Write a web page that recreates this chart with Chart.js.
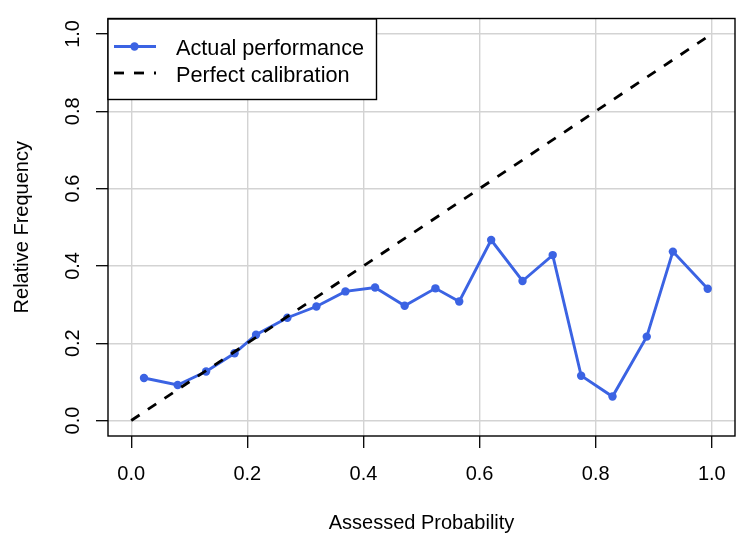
<!DOCTYPE html>
<html>
<head>
<meta charset="utf-8">
<script src="https://cdn.jsdelivr.net/npm/chart.js@4/dist/chart.umd.min.js"></script>
<style>
  html, body { margin: 0; padding: 0; background: #fff; }
  #wrap { width: 750px; height: 546px; }
</style>
</head>
<body>
<div id="wrap"><canvas id="c" width="750" height="546"></canvas></div>
<script>
// ---- data ----
const assessedProb = [0.022, 0.080, 0.129, 0.178, 0.215, 0.269, 0.319, 0.369, 0.420, 0.471,
                      0.524, 0.565, 0.620, 0.674, 0.726, 0.775, 0.829, 0.888, 0.933, 0.993];
const relativeFreq = [0.110, 0.092, 0.127, 0.174, 0.222, 0.266, 0.295, 0.334, 0.344, 0.297,
                      0.342, 0.308, 0.467, 0.361, 0.428, 0.116, 0.062, 0.217, 0.437, 0.341];
const diagX = [0, 1];
const diagY = [0, 1];
const xTicks = [0, 0.2, 0.4, 0.6, 0.8, 1.0];
const yTicks = [0, 0.2, 0.4, 0.6, 0.8, 1.0];
const xTickLabels = ['0.0', '0.2', '0.4', '0.6', '0.8', '1.0'];
const yTickLabels = ['0.0', '0.2', '0.4', '0.6', '0.8', '1.0'];
const seriesLabels = ['Actual performance', 'Perfect calibration'];
const xTitle = 'Assessed Probability';
const yTitle = 'Relative Frequency';

const BLUE = '#3b63e3';
const FONT = 'Liberation Sans, Arial, Helvetica, sans-serif';

Chart.defaults.color = '#000';
Chart.defaults.font.family = FONT;

const boxPlugin = {
  id: 'boxAndLegend',
  afterDraw(chart) {
    const ctx = chart.ctx;
    const a = chart.chartArea;
    ctx.save();
    // plot box
    ctx.strokeStyle = '#000';
    ctx.lineWidth = 1.4;
    ctx.strokeRect(a.left, a.top, a.right - a.left, a.bottom - a.top);
    // legend box (top-left of plot region)
    const lx = a.left, ly = a.top + 0.5, lw = 268.5, lh = 80.5;
    ctx.fillStyle = '#fff';
    ctx.fillRect(lx, ly, lw, lh);
    ctx.strokeRect(lx, ly, lw, lh);
    const ds = chart.data.datasets;
    // entry 1: blue line with point
    ctx.strokeStyle = ds[1].borderColor;
    ctx.lineWidth = ds[1].borderWidth;
    ctx.setLineDash([]);
    ctx.beginPath();
    ctx.moveTo(114, 46.5);
    ctx.lineTo(156, 46.5);
    ctx.stroke();
    ctx.fillStyle = ds[1].pointBackgroundColor;
    ctx.beginPath();
    ctx.arc(134.5, 46.5, 4.2, 0, Math.PI * 2);
    ctx.fill();
    // entry 2: dashed
    ctx.strokeStyle = ds[0].borderColor;
    ctx.lineWidth = ds[0].borderWidth;
    ctx.setLineDash(ds[0].borderDash);
    ctx.beginPath();
    ctx.moveTo(114, 73);
    ctx.lineTo(156, 73);
    ctx.stroke();
    ctx.setLineDash([]);
    // text
    ctx.fillStyle = '#000';
    ctx.font = '21.7px ' + FONT;
    ctx.textAlign = 'left';
    ctx.textBaseline = 'alphabetic';
    ctx.fillText(ds[1].label, 176, 54.5);
    ctx.fillText(ds[0].label, 176, 81.8);
    ctx.restore();
  }
};

function fixedTicks(values) {
  return function (scale) {
    scale.ticks = values.map(v => ({ value: v }));
  };
}

new Chart(document.getElementById('c'), {
  type: 'scatter',
  data: {
    datasets: [
      {
        label: seriesLabels[1],
        data: diagX.map((x, i) => ({ x: x, y: diagY[i] })),
        showLine: true,
        borderColor: '#000',
        borderWidth: 2.8,
        borderDash: [10, 10],
        pointRadius: 0,
        pointHoverRadius: 0,
        fill: false
      },
      {
        label: seriesLabels[0],
        data: assessedProb.map((x, i) => ({ x: x, y: relativeFreq[i] })),
        showLine: true,
        borderColor: BLUE,
        backgroundColor: BLUE,
        pointBackgroundColor: BLUE,
        pointBorderColor: BLUE,
        borderWidth: 2.9,
        pointRadius: 4.2,
        pointBorderWidth: 0,
        pointHoverRadius: 4.2,
        fill: false
      }
    ]
  },
  options: {
    responsive: false,
    animation: false,
    devicePixelRatio: 1,
    layout: { padding: { top: 18.5, right: 15, left: 0, bottom: 0 } },
    plugins: {
      legend: { display: false },
      tooltip: { enabled: false }
    },
    events: [],
    scales: {
      x: {
        type: 'linear',
        min: -0.04,
        max: 1.04,
        afterBuildTicks: fixedTicks(xTicks),
        afterFit(scale) {
          scale.height = 110;
          scale.paddingLeft = 0; scale.paddingRight = 0;
          scale.paddingTop = 0; scale.paddingBottom = 0;
        },
        border: { display: false },
        grid: {
          color: '#d3d3d3',
          lineWidth: 1.4,
          drawTicks: true,
          tickLength: 12,
          tickColor: '#000',
          tickWidth: 1.3
        },
        ticks: {
          font: { size: 20, family: FONT },
          padding: 14,
          maxRotation: 0,
          minRotation: 0,
          autoSkip: false,
          callback: (v, i) => xTickLabels[i]
        },
        title: {
          display: true,
          text: xTitle,
          font: { size: 20, family: FONT },
          padding: { top: 0, bottom: 11 }
        }
      },
      y: {
        type: 'linear',
        min: -0.04,
        max: 1.04,
        afterBuildTicks: fixedTicks(yTicks),
        afterFit(scale) {
          scale.width = 108;
          scale.paddingLeft = 0; scale.paddingRight = 0;
          scale.paddingTop = 0; scale.paddingBottom = 0;
        },
        border: { display: false },
        grid: {
          color: '#d3d3d3',
          lineWidth: 1.4,
          drawTicks: true,
          tickLength: 12,
          tickColor: '#000',
          tickWidth: 1.3
        },
        ticks: {
          font: { size: 20, family: FONT },
          padding: 9,
          minRotation: 90,
          maxRotation: 90,
          crossAlign: 'center',
          autoSkip: false,
          callback: (v, i) => yTickLabels[i]
        },
        title: {
          display: true,
          text: yTitle,
          font: { size: 20, family: FONT },
          padding: { top: 10, bottom: 0 }
        }
      }
    }
  },
  plugins: [boxPlugin]
});
</script>
</body>
</html>
